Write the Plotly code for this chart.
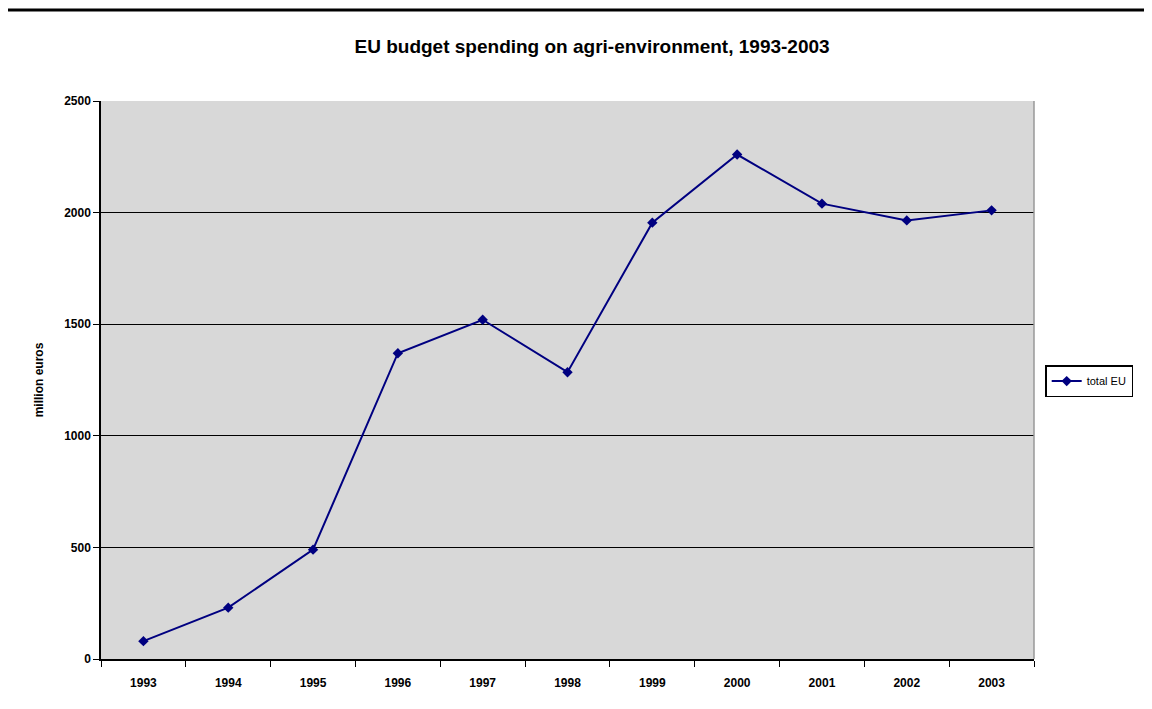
import plotly.graph_objects as go

years = ["1993", "1994", "1995", "1996", "1997", "1998", "1999", "2000", "2001", "2002", "2003"]
total_eu = [80, 230, 490, 1370, 1520, 1285, 1955, 2260, 2040, 1965, 2010]

font_family = "Liberation Sans, Arial, sans-serif"

fig = go.Figure()
fig.add_trace(go.Scatter(
    x=years, y=total_eu, mode="lines+markers", name="total EU",
    line=dict(color="#000080", width=2),
    marker=dict(symbol="diamond", size=8, color="#000080"),
))

fig.update_layout(
    width=1152, height=709,
    paper_bgcolor="white", plot_bgcolor="#d8d8d8",
    margin=dict(l=93, r=126, t=93, b=58),
    font=dict(family=font_family, size=12, color="black"),
    title=dict(text="<b>EU budget spending on agri-environment, 1993-2003</b>",
               x=0.507, xanchor="center", y=0.946, yanchor="middle",
               font=dict(size=19, family=font_family)),
    showlegend=True,
    legend=dict(x=1.012, xanchor="left", y=0.498, yanchor="middle",
                bordercolor="black", borderwidth=1.5, bgcolor="white",
                font=dict(size=11, family=font_family),
                itemwidth=30, tracegroupgap=0),
    shapes=[dict(type="line", xref="paper", yref="paper", x0=-0.2, x1=1.2,
                 y0=1.163, y1=1.163, line=dict(color="black", width=3)),
            dict(type="line", xref="paper", yref="paper", x0=1, x1=1, y0=0, y1=1,
                 line=dict(color="#999999", width=1.5))],
)

fig.update_xaxes(
    type="category", tickson="boundaries", ticks="outside", ticklen=6,
    range=[-0.5, len(years) - 0.5],
    tickcolor="black", showline=True, linecolor="black", linewidth=1.5,
    showgrid=False, tickfont=dict(size=12, family=font_family),
    ticklabelstandoff=12,
    tickvals=years, ticktext=[f"<b>{y}</b>" for y in years],
)
fig.update_yaxes(
    range=[0, 2500], dtick=500, ticks="outside", ticklen=6, tickcolor="black",
    showline=True, linecolor="black", linewidth=1.5,
    showgrid=True, gridcolor="black", gridwidth=1.2, zeroline=False,
    tickfont=dict(size=12, family=font_family),
    tickvals=[0, 500, 1000, 1500, 2000, 2500],
    ticktext=["<b>0</b>", "<b>500</b>", "<b>1000</b>", "<b>1500</b>", "<b>2000</b>", "<b>2500</b>"],
    title=dict(text="<b>million euros</b>", font=dict(size=12, family=font_family), standoff=18),
)

fig.write_html("out.html")
